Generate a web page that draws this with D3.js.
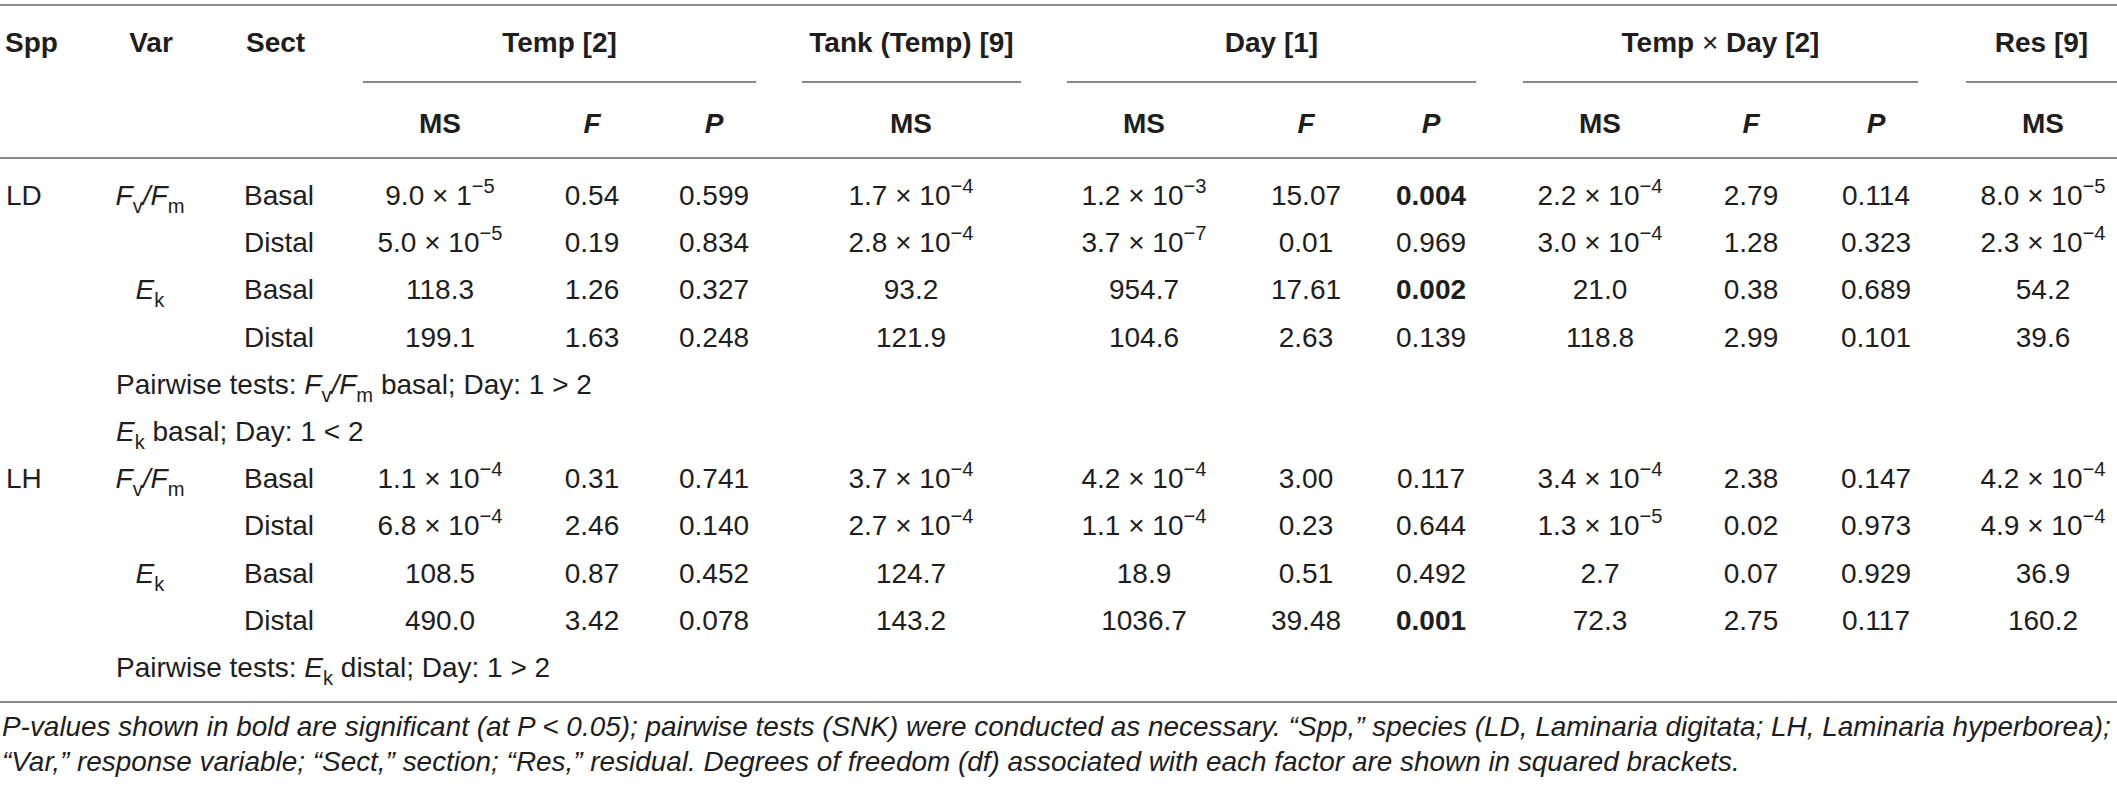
<!DOCTYPE html>
<html>
<head>
<meta charset="utf-8">
<script src="https://cdn.jsdelivr.net/npm/d3@7/dist/d3.min.js"></script>
<style>
  body { margin: 0; background: #fff; }
  svg { display: block; }
  text { font-family: "Liberation Sans", Arial, Helvetica, sans-serif; fill: #1e1e1e; }
</style>
</head>
<body>
<div id="table"></div>
<script>
// header labels
var groups = ["Temp [2]", "Tank (Temp) [9]", "Day [1]", "Temp × Day [2]", "Res [9]"];
var subLabels = { tMS: "MS", tF: "F", tP: "P", kMS: "MS", dMS: "MS", dF: "F", dP: "P",
                  xMS: "MS", xF: "F", xP: "P", rMS: "MS" };

// row labels (one entry per data row)
var spp  = ["LD", "", "", "", "LH", "", "", ""];
var vars = ["FvFm", "", "Ek", "", "FvFm", "", "Ek", ""];
var sect = ["Basal", "Distal", "Basal", "Distal", "Basal", "Distal", "Basal", "Distal"];

// values, "^" marks the exponent
var tempMS = ["9.0 × 1^−5", "5.0 × 10^−5", "118.3", "199.1", "1.1 × 10^−4", "6.8 × 10^−4", "108.5", "490.0"];
var tempF  = ["0.54", "0.19", "1.26", "1.63", "0.31", "2.46", "0.87", "3.42"];
var tempP  = ["0.599", "0.834", "0.327", "0.248", "0.741", "0.140", "0.452", "0.078"];
var tankMS = ["1.7 × 10^−4", "2.8 × 10^−4", "93.2", "121.9", "3.7 × 10^−4", "2.7 × 10^−4", "124.7", "143.2"];
var dayMS  = ["1.2 × 10^−3", "3.7 × 10^−7", "954.7", "104.6", "4.2 × 10^−4", "1.1 × 10^−4", "18.9", "1036.7"];
var dayF   = ["15.07", "0.01", "17.61", "2.63", "3.00", "0.23", "0.51", "39.48"];
var dayP   = ["0.004", "0.969", "0.002", "0.139", "0.117", "0.644", "0.492", "0.001"];
var txdMS  = ["2.2 × 10^−4", "3.0 × 10^−4", "21.0", "118.8", "3.4 × 10^−4", "1.3 × 10^−5", "2.7", "72.3"];
var txdF   = ["2.79", "1.28", "0.38", "2.99", "2.38", "0.02", "0.07", "2.75"];
var txdP   = ["0.114", "0.323", "0.689", "0.101", "0.147", "0.973", "0.929", "0.117"];
var resMS  = ["8.0 × 10^−5", "2.3 × 10^−4", "54.2", "39.6", "4.2 × 10^−4", "4.9 × 10^−4", "36.9", "160.2"];

// pairwise notes: [line index, var, text after var, lead text]
var pairwise = [[4, "FvFm", " basal; Day: 1 > 2", "Pairwise tests: "],
                [5, "Ek", " basal; Day: 1 < 2", ""],
                [10, "Ek", " distal; Day: 1 > 2", "Pairwise tests: "]];
var dataLines = [0, 1, 2, 3, 6, 7, 8, 9];

var footnotes = [
  "P-values shown in bold are significant (at P < 0.05); pairwise tests (SNK) were conducted as necessary. “Spp,” species (LD, Laminaria digitata; LH, Laminaria hyperborea);",
  "“Var,” response variable; “Sect,” section; “Res,” residual. Degrees of freedom (df) associated with each factor are shown in squared brackets."
];

var width = 2117, height = 789;
var fs = 28;
var ruleColor = "#8a8a8a";

var svg = d3.select("#table").append("svg")
  .attr("width", width).attr("height", height);

var colKeys = ["tMS", "tF", "tP", "kMS", "dMS", "dF", "dP", "xMS", "xF", "xP", "rMS"];
var colX = d3.scaleOrdinal().domain(colKeys)
  .range([440, 592, 714, 911, 1144, 1306, 1431, 1600, 1751, 1876, 2043]);
var groupSpan = d3.scaleOrdinal().domain(groups)
  .range([[363, 756], [802, 1021], [1067, 1476], [1523, 1918], [1966, 2117]]);
var lineY = d3.scaleLinear().domain([0, 10]).range([205, 677]);

var cols = { tMS: tempMS, tF: tempF, tP: tempP, kMS: tankMS, dMS: dayMS, dF: dayF, dP: dayP,
             xMS: txdMS, xF: txdF, xP: txdP, rMS: resMS };

function rule(y, x1, x2) {
  svg.append("line").attr("x1", x1).attr("x2", x2).attr("y1", y).attr("y2", y)
    .attr("stroke", ruleColor).attr("stroke-width", 2);
}

// write a value, exponent after "^" as superscript
function writeValue(sel, s) {
  var parts = s.split("^");
  sel.append("tspan").text(parts[0]);
  if (parts.length > 1) {
    sel.append("tspan").attr("font-size", fs * 0.72)
      .attr("baseline-shift", fs * 0.42).text(parts[1]);
  }
}

// italic symbol with upright subscript
function writeVar(sel, v) {
  function sym(main, sub) {
    sel.append("tspan").attr("font-style", "italic").text(main);
    sel.append("tspan").attr("font-size", fs * 0.72)
      .attr("baseline-shift", -fs * 0.28).text(sub);
  }
  if (v == "FvFm") {
    sym("F", "v");
    sel.append("tspan").attr("font-style", "italic").text("/");
    sym("F", "m");
  } else if (v == "Ek") {
    sym("E", "k");
  }
}

// rules
rule(5, 0, width);
groups.forEach(function(g) { var s = groupSpan(g); rule(82, s[0], s[1]); });
rule(158, 0, width);
rule(702, 0, width);

// header row 1
var h1 = 52;
[["Spp", 5, "start"], ["Var", 151, "middle"], ["Sect", 246, "start"]].forEach(function(d) {
  svg.append("text").attr("x", d[1]).attr("y", h1).attr("text-anchor", d[2])
    .attr("font-size", fs).attr("font-weight", "bold").text(d[0]);
});
svg.selectAll(".grp").data(groups).enter().append("text")
  .attr("class", "grp")
  .attr("x", function(d) { var s = groupSpan(d); return (s[0] + s[1]) / 2; })
  .attr("y", h1).attr("text-anchor", "middle")
  .attr("font-size", fs).attr("font-weight", "bold")
  .each(function(d) {
    var t = d3.select(this);
    if (d.indexOf("×") > 0) {
      var p = d.split("×");
      t.append("tspan").text(p[0]);
      t.append("tspan").attr("font-weight", "normal").text("×");
      t.append("tspan").text(p[1]);
    } else {
      t.text(d);
    }
  });

// header row 2
svg.selectAll(".sub").data(colKeys).enter().append("text")
  .attr("class", "sub")
  .attr("x", function(d) { return colX(d); })
  .attr("y", 133).attr("text-anchor", "middle")
  .attr("font-size", fs).attr("font-weight", "bold")
  .attr("font-style", function(d) { return subLabels[d] == "MS" ? "normal" : "italic"; })
  .text(function(d) { return subLabels[d]; });

// body
dataLines.forEach(function(line, i) {
  var y = lineY(line);
  if (spp[i]) svg.append("text").attr("x", 6).attr("y", y).attr("font-size", fs).text(spp[i]);
  if (vars[i]) {
    var vt = svg.append("text").attr("x", 150).attr("y", y).attr("text-anchor", "middle").attr("font-size", fs);
    writeVar(vt, vars[i]);
  }
  svg.append("text").attr("x", 244).attr("y", y).attr("font-size", fs).text(sect[i]);
  colKeys.forEach(function(k) {
    var v = cols[k][i];
    var t = svg.append("text").attr("x", colX(k)).attr("y", y)
      .attr("text-anchor", "middle").attr("font-size", fs);
    if (k.slice(1) == "P" && +v < 0.05) t.attr("font-weight", "bold");
    writeValue(t, v);
  });
});

pairwise.forEach(function(p) {
  var t = svg.append("text").attr("x", 116).attr("y", lineY(p[0])).attr("font-size", fs);
  if (p[3]) t.append("tspan").text(p[3]);
  writeVar(t, p[1]);
  t.append("tspan").text(p[2]);
});

// footnotes, fitted to the table width
var fn = svg.selectAll(".fn").data(footnotes).enter().append("text")
  .attr("class", "fn")
  .attr("x", 2).attr("y", function(d, i) { return 736 + i * 35; })
  .attr("font-size", 100).attr("font-style", "italic")
  .text(function(d) { return d; });
var w0 = fn.node().getComputedTextLength();
fn.attr("font-size", 100 * 2110 / w0);
</script>
</body>
</html>
